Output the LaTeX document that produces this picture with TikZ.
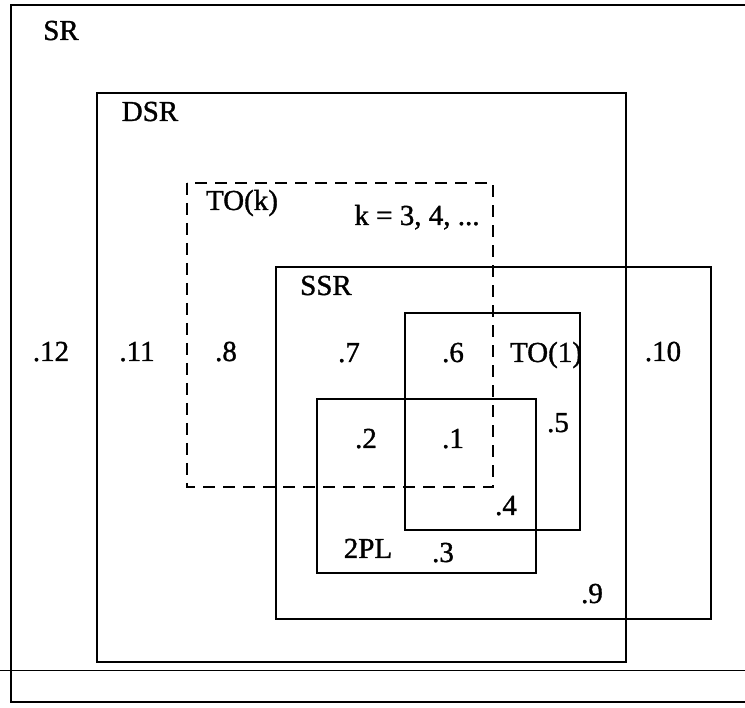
\documentclass[tikz,border=0pt]{standalone}
\usepackage{fontspec}
\setmainfont{Liberation Serif}
\newfontfamily\heavyserif[RawFeature={embolden=1.2}]{Liberation Serif}
\begin{document}
\begin{tikzpicture}[x=1pt,y=-1pt,
  box/.style={draw=black,line width=2.2pt},
  dbox/.style={draw=black,line width=2.2pt,dash pattern=on 12pt off 8pt},
  lbl/.style={font=\heavyserif\fontsize{29}{33}\selectfont,inner sep=0pt,anchor=base}]
\useasboundingbox (0,0) rectangle (745,708);
% SR (right side cut off)
\draw[box] (745,5) -- (11,5) -- (11,702) -- (745,702);
% thin horizontal line
\draw[line width=0.8pt] (0,670) -- (745,670);
% DSR
\draw[box] (97,93) rectangle (626,662);
% TO(k) dashed
\draw[dbox] (187,183) rectangle (493,487);
% SSR
\draw[box] (276,267) rectangle (711,619);
% TO(1)
\draw[box] (405,313) rectangle (580,530);
% 2PL
\draw[box] (317,399) rectangle (536,573);
% labels
\node[lbl] (sr) at (61,40) {SR};
\node[lbl] (dsr) at (150,121) {DSR};
\node[lbl] (tok) at (242,210) {TO(k)};
\node[lbl] (kk) at (417,225) {k = 3, 4, ...};
\node[lbl] (ssr) at (326,295) {SSR};
\node[lbl] (n12) at (51,361) {.12};
\node[lbl] (n11) at (137,361) {.11};
\node[lbl] (n8) at (226,361) {.8};
\node[lbl] (n7) at (349,362) {.7};
\node[lbl] (n6) at (453,362) {.6};
\node[lbl] (to1) at (546,362) {TO(1)};
\node[lbl] (n10) at (663,361) {.10};
\node[lbl] (n2) at (366,448) {.2};
\node[lbl] (n1) at (453,448) {.1};
\node[lbl] (n5) at (558,432) {.5};
\node[lbl] (n4) at (506,515) {.4};
\node[lbl] (pl) at (368,558) {2PL};
\node[lbl] (n3) at (443,562) {.3};
\node[lbl] (n9) at (592,603) {.9};
\end{tikzpicture}
\end{document}
